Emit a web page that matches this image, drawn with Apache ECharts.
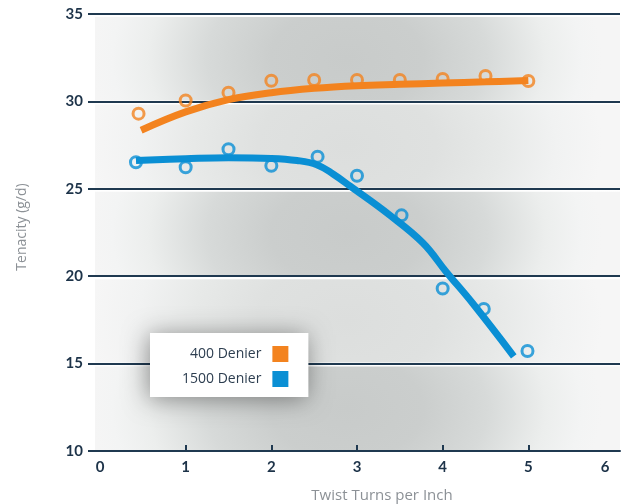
<!DOCTYPE html>
<html><head><meta charset="utf-8">
<script src="https://cdn.jsdelivr.net/npm/echarts@6/dist/echarts.min.js"></script>
<style>html,body{margin:0;padding:0;background:#fff}#c{width:626px;height:504px}</style>
</head><body><div id="c"></div>
<script>
// ---- data ----
const seriesNames = ['400 Denier', '1500 Denier'];
const xTickLabels = [0, 1, 2, 3, 4, 5, 6];
const xTickMarks = [1, 2, 3, 4, 5];
const yTickLabels = [10, 15, 20, 25, 30, 35];
// measured points (open circles)
const points400 = [[0.45,29.3],[1.0,30.05],[1.5,30.5],[2.0,31.18],[2.5,31.22],[3.0,31.22],[3.5,31.22],[4.0,31.28],[4.5,31.45],[5.0,31.17]];
const points1500 = [[0.42,26.52],[1.0,26.23],[1.5,27.26],[2.0,26.32],[2.54,26.84],[3.0,25.75],[3.52,23.48],[4.0,19.3],[4.48,18.13],[4.99,15.72]];
// fitted curves (thick lines)
const fit400 = [[0.48,28.35],[1.0,29.4],[1.5,30.1],[2.0,30.5],[2.5,30.75],[3.0,30.9],[3.5,30.98],[4.0,31.05],[4.5,31.12],[5.0,31.2]];
const fit1500 = [[0.42,26.62],[1.0,26.72],[1.5,26.78],[2.0,26.74],[2.3,26.62],[2.53,26.38],[2.72,25.85],[2.92,25.15],[3.38,23.5],[3.77,21.9],[4.04,20.26],[4.35,18.45],[4.83,15.42]];

const ORANGE = '#f3831f', BLUE = '#0a8fd4', NAVY = '#1f3950';
const chart = echarts.init(document.getElementById('c'), null, {renderer: 'canvas'});

chart.setOption({
  animation: false,
  backgroundColor: '#ffffff',
  grid: {left: 100, right: 6, top: 14, bottom: 53},
  xAxis: {
    type: 'value', min: 0, max: 6.07,
    axisLine: {show: true, lineStyle: {color: NAVY, width: 2}},
    axisTick: {show: true, inside: true, length: 6, customValues: xTickMarks, lineStyle: {color: NAVY, width: 2}},
    axisLabel: {
      customValues: xTickLabels, margin: 9,
      color: '#1d3349', fontSize: 15, fontWeight: 'bold', fontFamily: 'Lato',
      formatter: v => v === 6 ? '{s|6}' : String(v),
      rich: {s: {color: '#1d3349', fontSize: 15, fontWeight: 'bold', fontFamily: 'Lato', padding: [0, 18, 0, 0]}}
    },
    splitLine: {show: false}
  },
  yAxis: {
    type: 'value', min: 10, max: 35, interval: 5,
    axisLine: {show: false},
    axisTick: {show: true, length: 12, lineStyle: {color: NAVY, width: 2}},
    axisLabel: {margin: 17, color: '#1d3349', fontSize: 15, fontWeight: 'bold', fontFamily: 'Lato'},
    splitLine: {show: true, lineStyle: {color: NAVY, width: 2}}
  },
  legend: {
    data: seriesNames, orient: 'vertical', left: 150, top: 333,
    align: 'right', icon: 'rect', itemWidth: 16, itemHeight: 16, itemGap: 9,
    padding: [13, 20, 10, 32],
    backgroundColor: '#ffffff',
    shadowBlur: 24, shadowColor: 'rgba(0,0,0,0.42)', shadowOffsetX: -2, shadowOffsetY: 2,
    textStyle: {color: '#2d3e50', fontSize: 14, fontFamily: 'Open Sans', width: 80, align: 'right', padding: [0, 6, 0, 0]}
  },
  series: [
    {name: 'pts400', type: 'scatter', data: points400, symbol: 'circle', symbolSize: 11, z: 3,
     itemStyle: {color: 'rgba(0,0,0,0)', borderColor: ORANGE, borderWidth: 3}},
    {name: 'pts1500', type: 'scatter', data: points1500, symbol: 'circle', symbolSize: 11, z: 3,
     itemStyle: {color: 'rgba(0,0,0,0)', borderColor: BLUE, borderWidth: 3}},
    {name: seriesNames[0], type: 'line', data: fit400, smooth: 0.4, showSymbol: false, z: 4,
     color: ORANGE, lineStyle: {color: ORANGE, width: 7}},
    {name: seriesNames[1], type: 'line', data: fit1500, smooth: 0.4, showSymbol: false, z: 4,
     color: BLUE, lineStyle: {color: BLUE, width: 7}}
  ]
});

// background bands (decoration) placed through the y axis scale
const bandLeft = 95, bandRight = 620;
const W = bandRight - bandLeft;
const SX = 1.5;
const elements = [];
for (let i = 0; i < yTickLabels.length - 1; i++) {
  const lo = yTickLabels[i], hi = yTickLabels[i + 1];
  const yTop = chart.convertToPixel({yAxisIndex: 0}, hi) + 3;
  const yBot = chart.convertToPixel({yAxisIndex: 0}, lo) - 1;
  const H = yBot - yTop;
  const dark = (i % 2 === 0);
  const stops = dark
    ? [{offset: 0, color: '#c8cbca'}, {offset: 0.3, color: '#cbcecd'}, {offset: 0.55, color: '#d7dad9'}, {offset: 0.78, color: '#eceeed'}, {offset: 0.92, color: '#f3f4f4'}, {offset: 1, color: '#f5f5f5'}]
    : [{offset: 0, color: '#dcdedd'}, {offset: 0.35, color: '#dfe1e0'}, {offset: 0.6, color: '#e7e9e8'}, {offset: 0.82, color: '#f1f2f2'}, {offset: 1, color: '#f6f6f6'}];
  const r = 170 / H;
  elements.push({
    type: 'rect', x: bandLeft, y: yTop, scaleX: SX, z: -10, silent: true,
    shape: {x: 0, y: 0, width: W / SX, height: H},
    style: {fill: {type: 'radial', x: 0.48, y: 0.5, r: r, colorStops: stops, global: false}}
  });
}
elements.push({type: 'text', x: 22, y: 227, rotation: Math.PI / 2, z: 5, silent: true,
  style: {text: 'Tenacity (g/d)', fill: '#8c9196', font: '14px "Open Sans"', textAlign: 'center', textVerticalAlign: 'middle'}});
elements.push({type: 'text', x: 382, y: 496, z: 5, silent: true,
  style: {text: 'Twist Turns per Inch', fill: '#8c9196', font: '15px "Open Sans"', textAlign: 'center', textVerticalAlign: 'middle'}});
chart.setOption({graphic: {elements: elements}});
</script>
</body></html>
